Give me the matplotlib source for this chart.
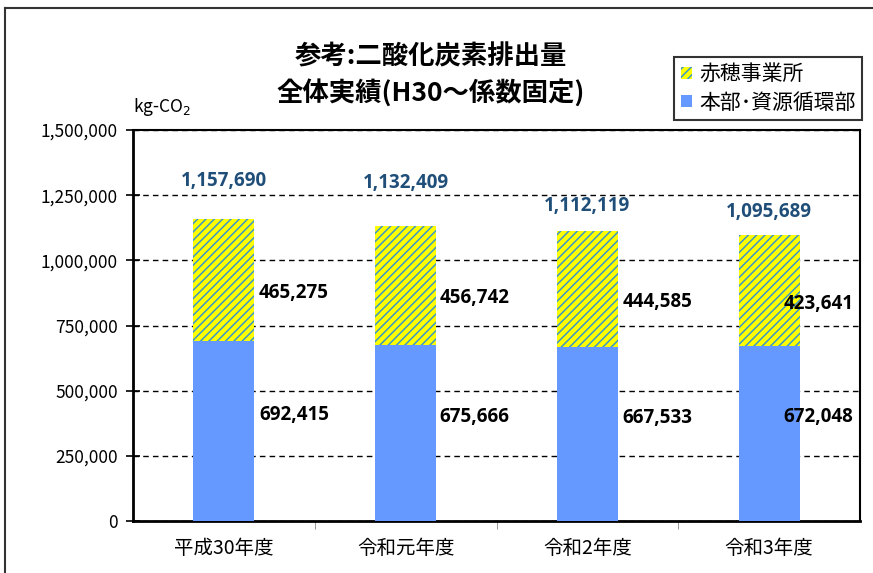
import matplotlib
matplotlib.use("Agg")
import matplotlib.pyplot as plt
from matplotlib.lines import Line2D
from matplotlib.patches import Patch
from matplotlib.ticker import FuncFormatter, MultipleLocator

plt.rcParams["font.family"] = ["Noto Sans CJK JP", "DejaVu Sans"]
plt.rcParams["hatch.linewidth"] = 1.1
plt.rcParams["hatch.color"] = "#3C96C8"

# --- data ---
years = ["平成30年度", "令和元年度", "令和2年度", "令和3年度"]
honbu = [692415, 675666, 667533, 672048]      # 本部・資源循環部
ako = [465275, 456742, 444585, 423641]        # 赤穂事業所
totals = [1157690, 1132409, 1112119, 1095689]

# label placement (pixels), matching the Excel layout
total_dy = [38, 43, 25, 23]
seg_dx = [35, 34, 35, 14]

fig = plt.figure(figsize=(8.73, 5.73), dpi=100)
ax = fig.add_axes([133 / 873, 1 - 521 / 573, (860 - 133) / 873, (521 - 130) / 573])

x = list(range(len(years)))
w = 0.335
ax.bar(x, honbu, width=w, color="#6699FF", label="本部･資源循環部", zorder=3)
ax.bar(x, ako, width=w, bottom=honbu, color="#FFFF00", hatch="////",
       edgecolor="#3C96C8", linewidth=0, label="赤穂事業所", zorder=3)

ax.set_xlim(-0.5, len(years) - 0.5)
ax.set_ylim(0, 1500000)
ax.yaxis.set_major_locator(MultipleLocator(250000))
ax.yaxis.set_major_formatter(FuncFormatter(lambda v, p: f"{int(v):,}"))
ax.grid(axis="y", color="black", linestyle=(0, (4, 3)), linewidth=1, zorder=0)

ax.set_xticks(x)
ax.set_xticklabels(years, fontsize=14)
ax.set_xticks([i + 0.5 for i in x[:-1]], minor=True)
ax.tick_params(axis="x", which="major", length=0, pad=12)
ax.tick_params(axis="x", which="minor", length=6, color="#888888", direction="out")
ax.tick_params(axis="y", labelsize=12.5, direction="inout", length=10, width=1.2, pad=6)

for side in ["left", "bottom"]:
    ax.spines[side].set_linewidth(2)
for side in ["top", "right"]:
    ax.spines[side].set_linewidth(1.5)

lbl_font = ["Open Sans", "DejaVu Sans"]

# totals above bars
for i, t in enumerate(totals):
    ax.annotate(f"{t:,}", (i, t), xytext=(0, total_dy[i]), textcoords="offset pixels",
                ha="center", va="center", fontsize=13.5, fontweight="bold",
                color="#1F4E79", family=lbl_font)

# segment values
for i in x:
    b_mid = honbu[i] / 2
    a_mid = honbu[i] + ako[i] / 2
    ax.annotate(f"{honbu[i]:,}", (i, b_mid), xytext=(seg_dx[i], 16), textcoords="offset pixels",
                ha="left", va="center", fontsize=13.5, fontweight="bold",
                family=lbl_font, zorder=5)
    ax.annotate(f"{ako[i]:,}", (i, a_mid), xytext=(seg_dx[i], -13), textcoords="offset pixels",
                ha="left", va="center", fontsize=13.5, fontweight="bold",
                family=lbl_font, zorder=5)

# title and unit
fig.text(431 / 873, 1 - 75 / 573, "参考:二酸化炭素排出量\n全体実績(H30～係数固定)",
         ha="center", va="center", fontsize=19, fontweight="bold", linespacing=1.35)
fig.text(133 / 873, 1 - 107 / 573, "kg-CO$_2$", ha="left", va="center", fontsize=12.5)

# legend
handles = [Patch(facecolor="#FFFF00", hatch="////", edgecolor="#3C96C8", linewidth=0),
           Patch(facecolor="#6699FF")]
leg = fig.legend(handles, ["赤穂事業所", "本部･資源循環部"], loc="upper right",
                 bbox_to_anchor=(862 / 873, 1 - 57 / 573), fontsize=15, frameon=True,
                 fancybox=False, edgecolor="black", handlelength=0.55, handleheight=0.55,
                 handletextpad=0.35, borderpad=0.3, labelspacing=0.3, borderaxespad=0)
leg.get_frame().set_linewidth(1.5)

# outer chart border
fig.add_artist(Line2D([5 / 873, 5 / 873], [0, 1 - 8 / 573], color="#333333", linewidth=1.5))
fig.add_artist(Line2D([5 / 873, 1], [1 - 8 / 573, 1 - 8 / 573], color="#333333", linewidth=1.5))

fig.savefig("out.png", dpi=100)
